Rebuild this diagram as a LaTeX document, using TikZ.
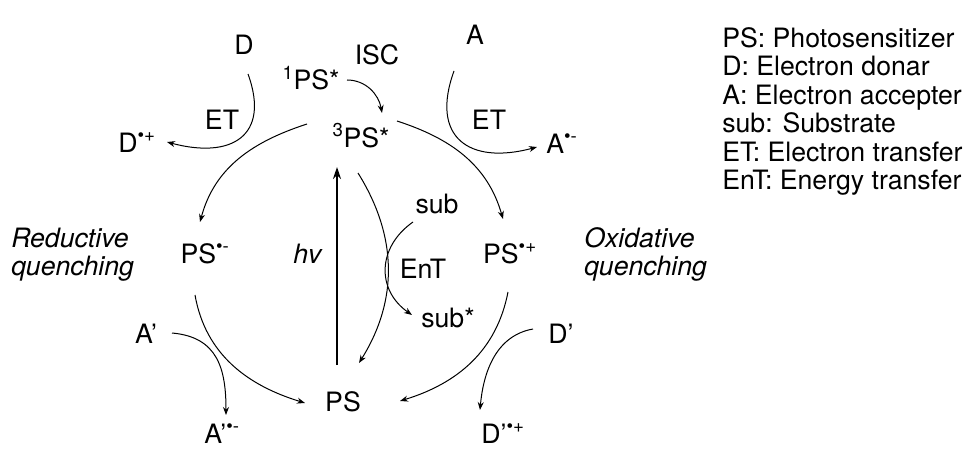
\documentclass[tikz,border=0pt]{standalone}
\usepackage{fontspec}
\setmainfont{TeX Gyre Heros}
\usetikzlibrary{arrows.meta}
\tikzset{
  lbl/.style={inner sep=0pt, anchor=base},
  note/.style={inner sep=0pt, anchor=north west, align=left},
  arr/.style={-{Stealth[length=6pt, width=4.5pt]}, line width=0.75pt},
  light/.style={-{Stealth[length=9pt, width=6pt]}, line width=1.5pt},
}
\newcommand{\rad}[1]{\textsuperscript{\textbullet#1}}

\begin{document}
\begin{tikzpicture}[x=0.75pt, y=0.75pt, font=\fontsize{20}{21}\selectfont]
  \useasboundingbox (0,0) rectangle (966,-449);
  % species
  \node[lbl] (sps) at (311,-90) {\textsuperscript{1}PS*};
  \node[lbl] (isc) at (377,-65) {ISC};
  \node[lbl] (tps) at (361,-147) {\textsuperscript{3}PS*};
  \node[lbl] (d) at (244,-55) {D};
  \node[lbl] (dp) at (137,-152) {D\rad{+}};
  \node[lbl] (etl) at (222,-130) {ET};
  \node[lbl] (a) at (475,-45) {A};
  \node[lbl] (ap) at (562,-153) {A\rad{-}};
  \node[lbl] (etr) at (489,-130) {ET};
  \node[lbl] (sub) at (437,-213) {sub};
  \node[lbl] (psm) at (205,-263) {PS\rad{-}};
  \node[lbl] (psp) at (510,-263) {PS\rad{+}};
  \node[lbl] (hv) at (308,-263) {\textit{hv}};
  \node[lbl] (ent) at (423,-278) {EnT};
  \node[lbl] (subs) at (448,-327) {sub*};
  \node[lbl] (a2) at (146,-343) {A’};
  \node[lbl] (d2) at (561,-343) {D’};
  \node[lbl] (ps) at (343,-411) {PS};
  \node[lbl] (a2m) at (222,-443) {A’\rad{-}};
  \node[lbl] (d2p) at (503,-443) {D’\rad{+}};
  \node[note, font=\fontsize{20}{21}\itshape] (red) at (11,-228) {Reductive\\quenching};
  \node[note, font=\fontsize{20}{21}\itshape] (oxi) at (584,-227) {Oxidative\\quenching};
  % legend
  \node[note, font=\fontsize{20}{21.4}\selectfont] (key) at (722,-27)
    {PS: Photosensitizer\\D: Electron donar\\A: Electron accepter\\sub: Substrate\\ET: Electron transfer\\EnT: Energy transfer};
  % main cycle
  \draw[arr] ([shift={(-54,23)}]tps.base) to[out=198, in=75] ([shift={(-5,41)}]psm.base);
  \draw[arr] ([shift={(-10,-32)}]psm.base) to[out=280, in=163] ([shift={(-38,8)}]ps.base);
  \draw[arr] ([shift={(36,26)}]tps.base) to[out=-18, in=106] ([shift={(-7,44)}]psp.base);
  \draw[arr] ([shift={(-2,-29)}]psp.base) to[out=259, in=17] ([shift={(57,10)}]ps.base);
  \draw[light] ([shift={(-6,46)}]ps.base) -- ([shift={(-24,-20)}]tps.base);
  \draw[arr] ([shift={(36,10)}]sps.base) to[out=0, in=100] ([shift={(21,34)}]tps.base);
  \draw[arr] ([shift={(-3,-26)}]tps.base) to[out=-58, in=58] ([shift={(16,48)}]ps.base);
  \draw[arr] ([shift={(-24,-9)}]sub.base) to[out=215, in=145, looseness=1.2] ([shift={(-36,12)}]subs.base);
  % quenchers
  \draw[arr] ([shift={(4,-19)}]d.base) to[out=-70, in=-15, looseness=1.6] ([shift={(30,10)}]dp.base);
  \draw[arr] ([shift={(-21,-26)}]a.base) to[out=-110, in=195, looseness=1.6] ([shift={(-25,6)}]ap.base);
  \draw[arr] ([shift={(26,10)}]a2.base) to[out=-5, in=90, looseness=1.2] ([shift={(4,28)}]a2m.base);
  \draw[arr] ([shift={(-28,14)}]d2.base) to[out=190, in=85] ([shift={(-23,33)}]d2p.base);
\end{tikzpicture}
\end{document}
